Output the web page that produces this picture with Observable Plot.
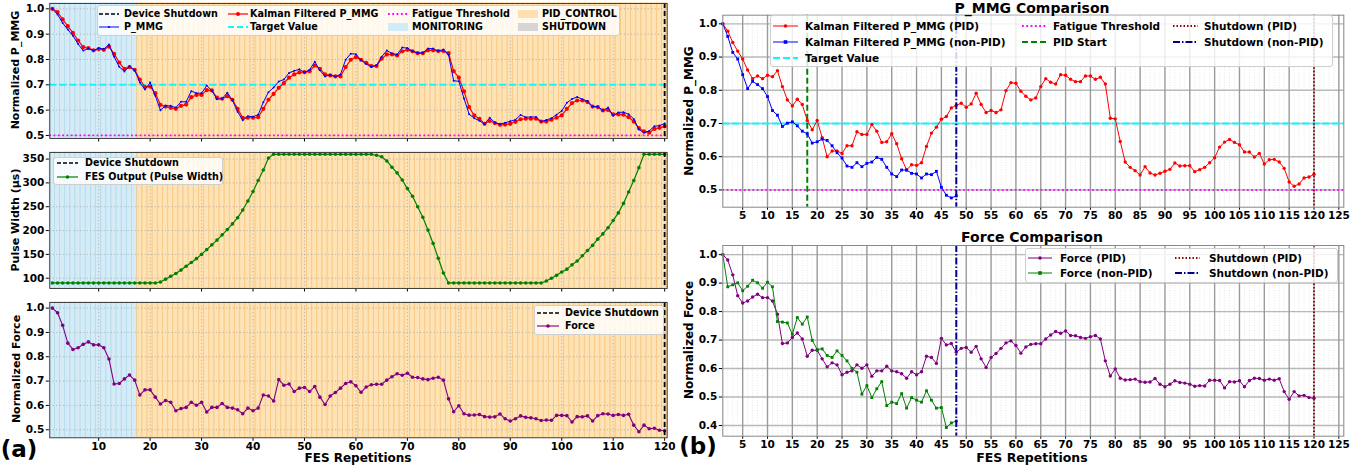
<!DOCTYPE html>
<html><head><meta charset="utf-8">
<script src="https://cdn.jsdelivr.net/npm/d3@7"></script>
<script src="https://cdn.jsdelivr.net/npm/@observablehq/plot@0.6"></script>
<style>
body{margin:0;background:#fff;}
#wrap{position:relative;width:1355px;height:466px;overflow:hidden;font-family:"DejaVu Sans",sans-serif;font-weight:bold;color:#000;}
.lbl{position:absolute;white-space:nowrap;line-height:1;}
.rot{transform:translate(-50%,-50%) rotate(-90deg);}
.ctr{transform:translate(-50%,-50%);}
.legend{position:absolute;background:rgba(255,255,255,0.82);border:1px solid #cfcfcf;border-radius:3px;box-sizing:border-box;}
.legend .t{position:absolute;white-space:nowrap;transform:translateY(-50%);line-height:1;}
.legend svg{position:absolute;overflow:visible;}
</style></head><body><div id="wrap"></div>
<script>
// ---------------- DATA ----------------
const monitoringEnd = 17;      // last MONITORING repetition
const pidStart = 18;
const shutdownPid = 120;
const shutdownNonPid = 48;
const targetValue = 0.7;
const fatigueThreshold = 0.5;

const xTicksLeft = [10,20,30,40,50,60,70,80,90,100,110,120];
const xTicksRight = [5,10,15,20,25,30,35,40,45,50,55,60,65,70,75,80,85,90,95,100,105,110,115,120,125];
const yTicksPmmgLeft = [0.5,0.6,0.7,0.8,0.9,1.0];
const yTicksPulse = [100,150,200,250,300,350];
const yTicksForceLeft = [0.5,0.6,0.7,0.8,0.9,1.0];
const yTicksPmmgRight = [0.5,0.6,0.7,0.8,0.9,1.0];
const yTicksForceRight = [0.4,0.5,0.6,0.7,0.8,0.9,1.0];

// P_MMG (PID session) - raw / Kalman filtered as compared on the right
const pmmgPid = [1.0,0.978,0.944,0.918,0.894,0.861,0.835,0.843,0.835,0.845,
0.841,0.859,0.811,0.771,0.753,0.773,0.757,0.709,0.681,0.709,
0.657,0.600,0.617,0.617,0.610,0.633,0.633,0.675,0.667,0.667,
0.697,0.677,0.643,0.645,0.669,0.639,0.594,0.560,0.576,0.574,
0.582,0.631,0.671,0.689,0.713,0.721,0.747,0.755,0.761,0.749,
0.759,0.791,0.757,0.733,0.739,0.733,0.741,0.799,0.823,0.821,
0.797,0.782,0.771,0.777,0.811,0.835,0.824,0.819,0.847,0.845,
0.833,0.826,0.826,0.843,0.843,0.833,0.839,0.819,0.716,0.714,
0.646,0.584,0.568,0.558,0.545,0.570,0.551,0.545,0.550,0.556,
0.562,0.581,0.572,0.573,0.573,0.555,0.561,0.568,0.582,0.597,
0.629,0.644,0.652,0.643,0.636,0.614,0.614,0.599,0.610,0.578,
0.591,0.592,0.584,0.565,0.524,0.511,0.518,0.536,0.539,0.547];

// Kalman filtered P_MMG (left panel, red)
const kalmanPid = [1.0,0.987,0.958,0.932,0.905,0.875,0.849,0.845,0.836,0.841,
0.838,0.851,0.822,0.788,0.763,0.770,0.759,0.721,0.691,0.693,
0.667,0.621,0.614,0.609,0.605,0.617,0.622,0.651,0.660,0.660,
0.679,0.678,0.649,0.645,0.655,0.641,0.605,0.570,0.570,0.570,
0.572,0.605,0.641,0.664,0.688,0.707,0.728,0.741,0.749,0.750,
0.754,0.776,0.763,0.741,0.737,0.733,0.733,0.770,0.799,0.809,
0.799,0.787,0.774,0.774,0.803,0.820,0.820,0.816,0.832,0.838,
0.832,0.825,0.825,0.836,0.836,0.833,0.833,0.825,0.754,0.728,
0.674,0.612,0.579,0.566,0.546,0.557,0.549,0.542,0.543,0.546,
0.554,0.564,0.566,0.566,0.566,0.555,0.555,0.562,0.570,0.579,
0.605,0.628,0.638,0.638,0.632,0.614,0.612,0.599,0.601,0.583,
0.583,0.582,0.572,0.555,0.529,0.516,0.511,0.526,0.530,0.536];

const pmmgNonPid = [1.0,0.962,0.914,0.894,0.847,0.805,0.827,0.817,0.805,0.781,
0.739,0.725,0.691,0.701,0.705,0.693,0.677,0.669,0.641,0.645,
0.653,0.649,0.633,0.612,0.596,0.572,0.568,0.582,0.570,0.580,
0.584,0.598,0.592,0.568,0.548,0.540,0.560,0.560,0.550,0.548,
0.536,0.548,0.546,0.556,0.508,0.484,0.476,0.482];

const pulseWidth = [90,90,90,90,90,90,90,90,90,90,
90,90,90,90,90,90,90,90,90,90,
90,92,98,104,110,117,125,133,141,150,
160,170,180,191,202,214,227,243,262,282,
305,327,352,360,360,360,360,360,360,360,
360,360,360,360,360,360,360,360,360,360,
360,360,360,358,355,346,333,321,306,288,
272,250,228,201,173,142,111,90,90,90,
90,90,90,90,90,90,90,90,90,90,
90,90,90,90,90,90,94,100,106,113,
119,128,136,147,158,169,182,193,206,221,
237,257,281,305,332,360,360,360,360,360];

const forcePid = [1.0,0.981,0.929,0.856,0.830,0.837,0.851,0.861,0.849,0.849,
0.837,0.791,0.688,0.690,0.709,0.725,0.704,0.643,0.664,0.664,
0.634,0.606,0.620,0.613,0.578,0.587,0.592,0.613,0.601,0.613,
0.573,0.592,0.592,0.608,0.592,0.589,0.582,0.566,0.589,0.578,
0.589,0.643,0.639,0.618,0.706,0.683,0.688,0.657,0.671,0.674,
0.657,0.678,0.634,0.604,0.639,0.653,0.671,0.690,0.697,0.681,
0.654,0.676,0.685,0.687,0.687,0.704,0.718,0.730,0.724,0.732,
0.716,0.715,0.709,0.706,0.712,0.716,0.704,0.627,0.574,0.599,
0.566,0.560,0.561,0.563,0.554,0.552,0.553,0.565,0.545,0.536,
0.545,0.557,0.551,0.549,0.545,0.538,0.540,0.539,0.559,0.559,
0.558,0.532,0.554,0.553,0.557,0.536,0.558,0.566,0.565,0.559,
0.563,0.559,0.564,0.519,0.492,0.519,0.504,0.506,0.498,0.496];

const forceNonPid = [1.0,0.887,0.894,0.901,0.873,0.889,0.910,0.901,0.882,0.903,
0.887,0.765,0.763,0.760,0.720,0.779,0.756,0.781,0.699,0.667,
0.669,0.646,0.639,0.662,0.646,0.627,0.601,0.587,0.510,0.540,
0.498,0.529,0.554,0.470,0.482,0.477,0.512,0.461,0.498,0.489,
0.482,0.522,0.489,0.461,0.463,0.393,0.409,0.416];

// ---------------- BUILD ----------------
const wrap = document.getElementById("wrap");
const reps = pmmgPid.map((_, i) => i + 1);
const pid = reps.map((r, i) => ({rep: r, raw: pmmgPid[i], kal: kalmanPid[i], pulse: pulseWidth[i], force: forcePid[i]}));
const non = pmmgNonPid.map((v, i) => ({rep: i + 1, pmmg: v, force: forceNonPid[i]}));

const baseStyle = {fontFamily: "DejaVu Sans", fontSize: "10.5px", fontWeight: "bold", background: "transparent", overflow: "visible"};

function place(el, left, top) {
  el.style.position = "absolute"; el.style.left = left + "px"; el.style.top = top + "px";
  wrap.appendChild(el);
}
function label(text, x, y, size, cls, weight) {
  const d = document.createElement("div");
  d.className = "lbl " + cls; d.textContent = text;
  d.style.left = x + "px"; d.style.top = y + "px"; d.style.fontSize = size + "px";
  if (weight) d.style.fontWeight = weight;
  wrap.appendChild(d);
}

const orangeFill = "#fee3b6", orangeEdge = "#f9c984";
const blueFill = "#d5ecf7", blueEdge = "#b6dbee";
function bgMarks() {
  return [
    Plot.rect(reps, {filter: r => r <= monitoringEnd, x1: r => r - 0.5, x2: r => r + 0.5, fill: blueFill, stroke: blueEdge, strokeWidth: 0.9}),
    Plot.rect(reps, {filter: r => r > monitoringEnd, x1: r => r - 0.5, x2: r => r + 0.5, fill: orangeFill, stroke: orangeEdge, strokeWidth: 0.9})
  ];
}
const dotGrid = {stroke: "#a8a8a8", strokeWidth: 0.8, strokeDasharray: "1.2,2.2"};

// ---- Left top: P_MMG ----
const pLT = Plot.plot({
  width: 680, height: 145, marginLeft: 49.3, marginRight: 13.3, marginTop: 3, marginBottom: 7,
  style: baseStyle,
  x: {domain: [0.5, 120.5], ticks: xTicksLeft, tickFormat: () => "", tickSize: 3.5, label: null},
  y: {domain: [0.488, 1.021], ticks: yTicksPmmgLeft, tickFormat: d3.format(".1f"), tickSize: 3.5, tickPadding: 2, label: null},
  marks: [
    ...bgMarks(),
    Plot.ruleX(xTicksLeft, dotGrid),
    Plot.ruleY(yTicksPmmgLeft, dotGrid),
    Plot.ruleY([targetValue], {stroke: "cyan", strokeWidth: 2, strokeDasharray: "7,3"}),
    Plot.ruleY([fatigueThreshold], {stroke: "magenta", strokeWidth: 1.8, strokeDasharray: "1.8,2.5"}),
    Plot.line(pid, {x: "rep", y: "kal", stroke: "red", strokeWidth: 1.2}),
    Plot.dot(pid, {x: "rep", y: "kal", r: 2.1, fill: "red"}),
    Plot.line(pid, {x: "rep", y: "raw", stroke: "blue", strokeWidth: 1}),
    Plot.dot(pid, {x: "rep", y: "raw", r: 1, fill: "blue"}),
    Plot.ruleX([shutdownPid], {stroke: "black", strokeWidth: 1.8, strokeDasharray: "5,3"}),
    Plot.frame({stroke: "#333", strokeWidth: 0.9})
  ]
});
place(pLT, 0, 0);

// ---- Left middle: pulse width ----
const pLM = Plot.plot({
  width: 680, height: 150, marginLeft: 49.3, marginRight: 13.3, marginTop: 7, marginBottom: 7,
  style: baseStyle,
  x: {domain: [0.5, 120.5], ticks: xTicksLeft, tickFormat: () => "", tickSize: 3.5, label: null},
  y: {domain: [78.4, 363.8], ticks: yTicksPulse, tickFormat: d3.format("d"), tickSize: 3.5, tickPadding: 2, label: null},
  marks: [
    ...bgMarks(),
    Plot.ruleX(xTicksLeft, dotGrid),
    Plot.ruleY(yTicksPulse, dotGrid),
    Plot.line(pid, {x: "rep", y: "pulse", stroke: "green", strokeWidth: 1.2}),
    Plot.dot(pid, {x: "rep", y: "pulse", r: 1.8, fill: "green"}),
    Plot.ruleX([shutdownPid], {stroke: "black", strokeWidth: 1.8, strokeDasharray: "5,3"}),
    Plot.frame({stroke: "#333", strokeWidth: 0.9})
  ]
});
place(pLM, 0, 145);

// ---- Left bottom: force ----
const pLB = Plot.plot({
  width: 680, height: 171, marginLeft: 49.3, marginRight: 13.3, marginTop: 7, marginBottom: 28.7,
  style: baseStyle,
  x: {domain: [0.5, 120.5], ticks: xTicksLeft, tickFormat: d3.format("d"), tickSize: 3.5, tickPadding: 1, label: null},
  y: {domain: [0.467, 1.023], ticks: yTicksForceLeft, tickFormat: d3.format(".1f"), tickSize: 3.5, tickPadding: 2, label: null},
  marks: [
    ...bgMarks(),
    Plot.ruleX(xTicksLeft, dotGrid),
    Plot.ruleY(yTicksForceLeft, dotGrid),
    Plot.line(pid, {x: "rep", y: "force", stroke: "purple", strokeWidth: 1.1}),
    Plot.dot(pid, {x: "rep", y: "force", r: 1.8, fill: "purple"}),
    Plot.ruleX([shutdownPid], {stroke: "black", strokeWidth: 1.8, strokeDasharray: "5,3"}),
    Plot.frame({stroke: "#333", strokeWidth: 0.9})
  ]
});
place(pLB, 0, 295);

// ---- Right grids ----
const minorRight = xTicksRight.flatMap(t => [t - 4, t - 3, t - 2, t - 1]).concat([126]);
function rightGrid(yTicks) {
  return [
    Plot.ruleX(minorRight, {stroke: "#d8d8d8", strokeWidth: 0.6, strokeDasharray: "1,1.5"}),
    Plot.ruleY(yTicks, {stroke: "#b8b8b8", strokeWidth: 1.4}),
    Plot.ruleX(xTicksRight, {stroke: "#9a9a9a", strokeWidth: 1.4})
  ];
}

// ---- Right top: P_MMG comparison ----
const pRT = Plot.plot({
  width: 675, height: 225, marginLeft: 42.3, marginRight: 11.7, marginTop: 14.7, marginBottom: 18.3,
  style: baseStyle,
  x: {domain: [1, 126], ticks: xTicksRight, tickFormat: d3.format("d"), tickSize: 3, tickPadding: 1, label: null},
  y: {domain: [0.448, 1.026], ticks: yTicksPmmgRight, tickFormat: d3.format(".1f"), tickSize: 3.5, tickPadding: 2, label: null},
  marks: [
    ...rightGrid(yTicksPmmgRight),
    Plot.ruleY([targetValue], {stroke: "cyan", strokeWidth: 2, strokeDasharray: "7,3"}),
    Plot.ruleY([fatigueThreshold], {stroke: "magenta", strokeWidth: 1.8, strokeDasharray: "1.8,2.5"}),
    Plot.ruleX([pidStart], {stroke: "green", strokeWidth: 2, strokeDasharray: "6,3"}),
    Plot.line(pid, {x: "rep", y: "raw", stroke: "red", strokeWidth: 1}),
    Plot.dot(pid, {x: "rep", y: "raw", r: 1.7, fill: "red"}),
    Plot.line(non, {x: "rep", y: "pmmg", stroke: "blue", strokeWidth: 1}),
    Plot.dot(non, {x: "rep", y: "pmmg", r: 1.6, symbol: "square", fill: "blue"}),
    Plot.ruleX([shutdownNonPid], {stroke: "#00008b", strokeWidth: 2, strokeDasharray: "7,2,1.5,2"}),
    Plot.ruleX([shutdownPid], {stroke: "#8b0000", strokeWidth: 1.8, strokeDasharray: "1.5,2"}),
    Plot.frame({stroke: "#888", strokeWidth: 1})
  ]
});
place(pRT, 680, 0);

// ---- Right bottom: force comparison ----
const pRB = Plot.plot({
  width: 675, height: 241, marginLeft: 42.3, marginRight: 11.7, marginTop: 20, marginBottom: 30.3,
  style: baseStyle,
  x: {domain: [1, 126], ticks: xTicksRight, tickFormat: d3.format("d"), tickSize: 3, tickPadding: 1, label: null},
  y: {domain: [0.3625, 1.032], ticks: yTicksForceRight, tickFormat: d3.format(".1f"), tickSize: 3.5, tickPadding: 2, label: null},
  marks: [
    ...rightGrid(yTicksForceRight),
    Plot.line(pid, {x: "rep", y: "force", stroke: "purple", strokeWidth: 1}),
    Plot.dot(pid, {x: "rep", y: "force", r: 1.7, fill: "purple"}),
    Plot.line(non, {x: "rep", y: "force", stroke: "green", strokeWidth: 1}),
    Plot.dot(non, {x: "rep", y: "force", r: 1.6, symbol: "square", fill: "green"}),
    Plot.ruleX([shutdownNonPid], {stroke: "#00008b", strokeWidth: 2, strokeDasharray: "7,2,1.5,2"}),
    Plot.ruleX([shutdownPid], {stroke: "#8b0000", strokeWidth: 1.8, strokeDasharray: "1.5,2"}),
    Plot.frame({stroke: "#888", strokeWidth: 1})
  ]
});
place(pRB, 680, 225);

// ---------------- LEGENDS ----------------
const NS = "http://www.w3.org/2000/svg";
function legend(box, fs, items) {
  const d = document.createElement("div");
  d.className = "legend";
  Object.assign(d.style, {left: box.x + "px", top: box.y + "px", width: box.w + "px", height: box.h + "px"});
  wrap.appendChild(d);
  for (const it of items) {
    const hw = it.hw || 22;
    const s = document.createElementNS(NS, "svg");
    s.setAttribute("width", hw); s.setAttribute("height", 10);
    s.style.left = (it.hx - box.x - 1) + "px"; s.style.top = (it.y - box.y - 1 - 5) + "px";
    if (it.patch) {
      const r = document.createElementNS(NS, "rect");
      r.setAttribute("x", 0); r.setAttribute("y", 1); r.setAttribute("width", hw); r.setAttribute("height", 8);
      r.setAttribute("fill", it.patch);
      s.appendChild(r);
    } else {
      const l = document.createElementNS(NS, "line");
      l.setAttribute("x1", 0); l.setAttribute("x2", hw); l.setAttribute("y1", 5); l.setAttribute("y2", 5);
      l.setAttribute("stroke", it.stroke); l.setAttribute("stroke-width", it.w || 1.2);
      if (it.dash) l.setAttribute("stroke-dasharray", it.dash);
      s.appendChild(l);
      if (it.marker) {
        let m;
        if (it.marker === "square") {
          m = document.createElementNS(NS, "rect");
          m.setAttribute("x", hw / 2 - 1.8); m.setAttribute("y", 3.2); m.setAttribute("width", 3.6); m.setAttribute("height", 3.6);
        } else {
          m = document.createElementNS(NS, "circle");
          m.setAttribute("cx", hw / 2); m.setAttribute("cy", 5); m.setAttribute("r", it.mr || 2);
        }
        m.setAttribute("fill", it.stroke);
        s.appendChild(m);
      }
    }
    d.appendChild(s);
    const t = document.createElement("div");
    t.className = "t"; t.textContent = it.text;
    t.style.left = (it.tx - box.x - 1) + "px"; t.style.top = (it.y - box.y - 1) + "px"; t.style.fontSize = fs + "px";
    d.appendChild(t);
  }
}

legend({x: 97, y: 5, w: 523, h: 31}, 9.6, [
  {hx: 99, hw: 20, y: 14, tx: 124, text: "Device Shutdown", stroke: "black", w: 1.6, dash: "4,2"},
  {hx: 99, hw: 20, y: 27, tx: 124, text: "P_MMG", stroke: "blue", w: 1, marker: "circle", mr: 1.1},
  {hx: 228, hw: 20, y: 14, tx: 250, text: "Kalman Filtered P_MMG", stroke: "red", w: 1.2, marker: "circle", mr: 2},
  {hx: 228, hw: 20, y: 27, tx: 250, text: "Target Value", stroke: "cyan", w: 2, dash: "6,3"},
  {hx: 388, hw: 20, y: 14, tx: 412, text: "Fatigue Threshold", stroke: "magenta", w: 1.8, dash: "1.8,2.5"},
  {hx: 388, hw: 20, y: 27, tx: 412, text: "MONITORING", patch: "#d3ebf7"},
  {hx: 518, hw: 20, y: 14, tx: 542, text: "PID_CONTROL", patch: "#fedfb0"},
  {hx: 518, hw: 20, y: 27, tx: 542, text: "SHUTDOWN", patch: "#d6d6d6"}
]);
legend({x: 53, y: 157, w: 170, h: 28}, 9.6, [
  {hx: 57, hw: 21, y: 163, tx: 85, text: "Device Shutdown", stroke: "black", w: 1.6, dash: "4,2"},
  {hx: 57, hw: 21, y: 177, tx: 85, text: "FES Output (Pulse Width)", stroke: "green", w: 1.2, marker: "circle", mr: 1.8}
]);
legend({x: 534, y: 305, w: 130, h: 30}, 9.6, [
  {hx: 537, hw: 22, y: 313, tx: 565, text: "Device Shutdown", stroke: "black", w: 1.6, dash: "4,2"},
  {hx: 537, hw: 22, y: 326, tx: 565, text: "Force", stroke: "purple", w: 1.1, marker: "circle", mr: 1.8}
]);
legend({x: 770, y: 15, w: 563, h: 52}, 10.5, [
  {hx: 773, hw: 25, y: 26, tx: 805, text: "Kalman Filtered P_MMG (PID)", stroke: "red", w: 1, marker: "circle", mr: 1.8},
  {hx: 773, hw: 25, y: 42, tx: 805, text: "Kalman Filtered P_MMG (non-PID)", stroke: "blue", w: 1, marker: "square"},
  {hx: 773, hw: 25, y: 58, tx: 805, text: "Target Value", stroke: "cyan", w: 2, dash: "7,3"},
  {hx: 1022, hw: 24, y: 26, tx: 1053, text: "Fatigue Threshold", stroke: "magenta", w: 1.8, dash: "1.8,2.5"},
  {hx: 1022, hw: 24, y: 42, tx: 1053, text: "PID Start", stroke: "green", w: 2, dash: "6,3"},
  {hx: 1173, hw: 25, y: 26, tx: 1204, text: "Shutdown (PID)", stroke: "#8b0000", w: 1.8, dash: "1.5,2"},
  {hx: 1173, hw: 25, y: 42, tx: 1204, text: "Shutdown (non-PID)", stroke: "#00008b", w: 2, dash: "7,2,1.5,2"}
]);
legend({x: 1025, y: 248, w: 313, h: 35}, 10.5, [
  {hx: 1028, hw: 24, y: 258, tx: 1060, text: "Force (PID)", stroke: "purple", w: 1, marker: "circle", mr: 1.8},
  {hx: 1028, hw: 24, y: 273, tx: 1060, text: "Force (non-PID)", stroke: "green", w: 1, marker: "square"},
  {hx: 1175, hw: 25, y: 258, tx: 1209, text: "Shutdown (PID)", stroke: "#8b0000", w: 1.8, dash: "1.5,2"},
  {hx: 1175, hw: 25, y: 273, tx: 1209, text: "Shutdown (non-PID)", stroke: "#00008b", w: 2, dash: "7,2,1.5,2"}
]);

// ---------------- TITLES & AXIS LABELS ----------------
label("Normalized P_MMG", 15, 70, 11, "rot");
label("Pulse Width (μs)", 15, 220, 11, "rot");
label("Normalized Force", 16, 369, 11, "rot");
label("FES Repetitions", 358, 458, 12, "ctr");
label("(a)", 19, 449, 23, "ctr", "bold");
label("Normalized P_MMG", 689, 111, 12, "rot");
label("Normalized Force", 689, 340, 12, "rot");
label("FES Repetitions", 1032, 458, 12.5, "ctr");
label("P_MMG Comparison", 1032, 8, 14, "ctr");
label("Force Comparison", 1032, 237, 14, "ctr");
label("(b)", 698, 446, 23, "ctr", "bold");
</script></body></html>
